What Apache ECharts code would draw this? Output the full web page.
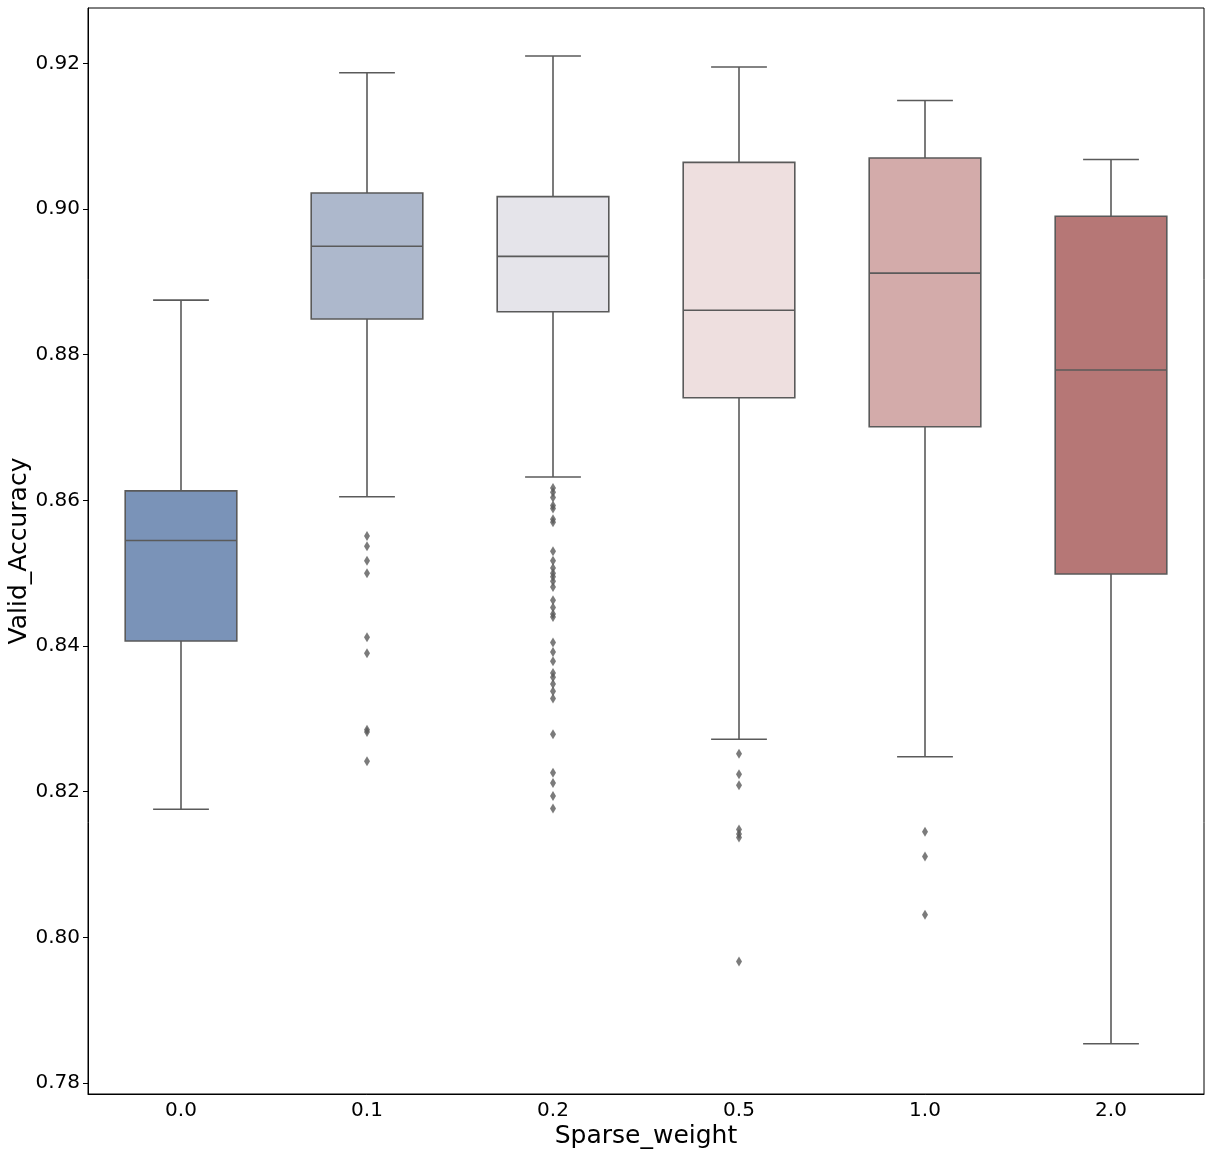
<!DOCTYPE html>
<html><head><meta charset="utf-8">
<script src="https://cdn.jsdelivr.net/npm/echarts@6/dist/echarts.min.js"></script>
<style>html,body{margin:0;padding:0;background:#fff}#c{width:1210px;height:1156px}</style>
</head><body><div id="c"></div>
<script>
// ---- data ----
const categories = ['0.0', '0.1', '0.2', '0.5', '1.0', '2.0'];
const whiskerLow  = [0.8176, 0.8605, 0.8632, 0.8272, 0.8248, 0.7854];
const q1          = [0.8407, 0.8849, 0.8859, 0.8741, 0.8701, 0.8499];
const median      = [0.8545, 0.8949, 0.8935, 0.8861, 0.8912, 0.8779];
const q3          = [0.8613, 0.9022, 0.9017, 0.9064, 0.9070, 0.8990];
const whiskerHigh = [0.8875, 0.9187, 0.9210, 0.9195, 0.9149, 0.9068];

const outliers00 = [];
const outliers01 = [0.8551, 0.8537, 0.8517, 0.8500, 0.8412, 0.8390, 0.8285, 0.8282, 0.8242];
const outliers02 = [0.8617, 0.8611, 0.8604, 0.8593, 0.8589, 0.8574, 0.8570, 0.8530, 0.8517,
                    0.8507, 0.8500, 0.8495, 0.8489, 0.8481, 0.8463, 0.8453, 0.8444, 0.8440,
                    0.8405, 0.8392, 0.8379, 0.8363, 0.8357, 0.8348, 0.8338, 0.8328, 0.8279,
                    0.8226, 0.8212, 0.8194, 0.8177];
const outliers05 = [0.8252, 0.8224, 0.8209, 0.8148, 0.8142, 0.8137, 0.7967];
const outliers10 = [0.8145, 0.8111, 0.8031];
const outliers20 = [];

const yTicks = [0.78, 0.80, 0.82, 0.84, 0.86, 0.88, 0.90, 0.92];

// ---- styles ----
const boxColors = ['#7a93b8', '#adb8cc', '#e5e4ea', '#eedfdf', '#d3abaa', '#b67776'];
const gray = '#5a5a5a';
const FONT = 'DejaVu Sans';

const boxData = categories.map((c, i) => [i, whiskerLow[i], q1[i], median[i], q3[i], whiskerHigh[i]]);
const outlierLists = [outliers00, outliers01, outliers02, outliers05, outliers10, outliers20];
const outlierData = [];
outlierLists.forEach((arr, i) => arr.forEach(v => outlierData.push([i, v])));

const chart = echarts.init(document.getElementById('c'), null, {renderer: 'canvas'});
chart.setOption({
  backgroundColor: '#fff',
  animation: false,
  grid: {left: 88, right: 6, top: 8, bottom: 62, outerBoundsMode: 'none', containLabel: false,
         show: true, borderColor: '#000', borderWidth: 1, backgroundColor: 'transparent'},
  xAxis: {
    type: 'category', data: categories, boundaryGap: true,
    axisLine: {lineStyle: {color: '#000', width: 1}},
    axisTick: {alignWithLabel: true, length: 5, lineStyle: {color: '#000', width: 1}},
    axisLabel: {color: '#000', fontSize: 20, fontFamily: FONT, margin: 7},
    splitLine: {show: false},
    name: 'Sparse_weight', nameLocation: 'middle', nameGap: 30, nameMoveOverlap: false,
    nameTextStyle: {color: '#000', fontSize: 25, fontFamily: FONT}
  },
  yAxis: {
    type: 'value', min: 0.7785, max: 0.9276,
    axisLine: {show: true, lineStyle: {color: '#000', width: 1}},
    axisTick: {show: true, length: 5, customValues: yTicks, lineStyle: {color: '#000', width: 1}},
    axisLabel: {color: '#000', fontSize: 20, fontFamily: FONT, margin: 8, customValues: yTicks,
                formatter: v => v.toFixed(2)},
    splitLine: {show: false},
    name: 'Valid_Accuracy', nameLocation: 'middle', nameGap: 56, nameMoveOverlap: false,
    nameTextStyle: {color: '#000', fontSize: 25, fontFamily: FONT}
  },
  series: [
    {
      type: 'custom',
      data: boxData,
      encode: {x: 0, y: [1, 2, 3, 4, 5]},
      renderItem: function (params, api) {
        const i = api.value(0);
        const lo = api.coord([i, api.value(1)]);
        const b1 = api.coord([i, api.value(2)]);
        const md = api.coord([i, api.value(3)]);
        const b3 = api.coord([i, api.value(4)]);
        const hi = api.coord([i, api.value(5)]);
        const bw = api.size([1, 0])[0] * 0.6;
        const cx = lo[0];
        const half = bw / 2, cap = bw / 4;
        const ls = {stroke: gray, lineWidth: 1.6};
        return {
          type: 'group',
          children: [
            {type: 'line', shape: {x1: cx, y1: b3[1], x2: cx, y2: hi[1]}, style: ls},
            {type: 'line', shape: {x1: cx, y1: b1[1], x2: cx, y2: lo[1]}, style: ls},
            {type: 'line', shape: {x1: cx - cap, y1: hi[1], x2: cx + cap, y2: hi[1]}, style: ls},
            {type: 'line', shape: {x1: cx - cap, y1: lo[1], x2: cx + cap, y2: lo[1]}, style: ls},
            {type: 'rect', shape: {x: cx - half, y: b3[1], width: bw, height: b1[1] - b3[1]},
             style: {fill: boxColors[params.dataIndex], stroke: gray, lineWidth: 1.6}},
            {type: 'line', shape: {x1: cx - half, y1: md[1], x2: cx + half, y2: md[1]}, style: ls}
          ]
        };
      }
    },
    {
      type: 'scatter',
      data: outlierData,
      symbol: 'diamond',
      symbolSize: [6, 10],
      itemStyle: {color: gray}
    }
  ]
});
</script></body></html>
